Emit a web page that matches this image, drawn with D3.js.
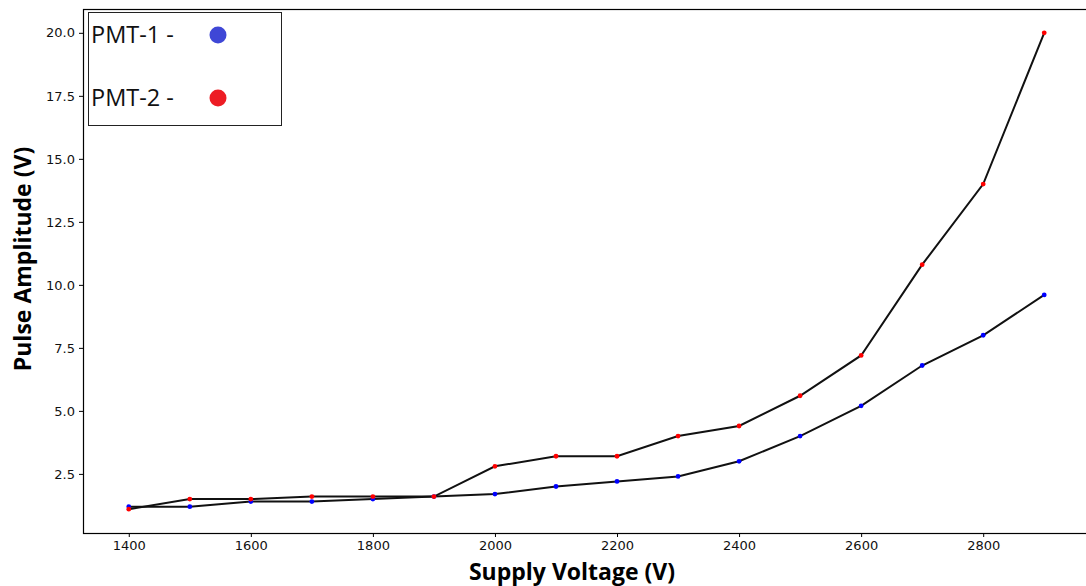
<!DOCTYPE html>
<html>
<head>
<meta charset="utf-8">
<script src="https://cdn.jsdelivr.net/npm/d3@7"></script>
<style>
  body { margin: 0; background: #fff; }
  .tick text { font-family: "DejaVu Sans", sans-serif; font-size: 13px; fill: #111; }
  .axis-title { font-family: "Open Sans", sans-serif; font-weight: bold; font-size: 23px; fill: #000; }
  .legend-text { font-family: "Open Sans", sans-serif; font-size: 23.5px; fill: #111; }
</style>
</head>
<body>
<div id="chart"></div>
<script>
// supply voltage steps (V)
var voltages = [1400, 1500, 1600, 1700, 1800, 1900, 2000, 2100, 2200, 2300, 2400, 2500, 2600, 2700, 2800, 2900];
// pulse amplitude (V)
var pmt1 = [1.2, 1.2, 1.4, 1.4, 1.5, 1.6, 1.7, 2.0, 2.2, 2.4, 3.0, 4.0, 5.2, 6.8, 8.0, 9.6];
var pmt2 = [1.1, 1.5, 1.5, 1.6, 1.6, 1.6, 2.8, 3.2, 3.2, 4.0, 4.4, 5.6, 7.2, 10.8, 14.0, 20.0];
var xTicks = [1400, 1600, 1800, 2000, 2200, 2400, 2600, 2800];
var yTicks = [2.5, 5.0, 7.5, 10.0, 12.5, 15.0, 17.5, 20.0];
var seriesNames = ["PMT-1 -", "PMT-2 -"];

var W = 1086, H = 586;
var margin = {top: 9, left: 83, bottom: 53, right: -4};
var x = d3.scaleLinear().domain([1325, 2975]).range([margin.left, W - margin.right]);
var y = d3.scaleLinear().domain([0.155, 20.945]).range([H - margin.bottom, margin.top]);

var svg = d3.select("#chart").append("svg")
  .attr("width", W)
  .attr("height", H);

var xAxis = d3.axisBottom(x).tickValues(xTicks).tickFormat(d3.format("d")).tickSizeOuter(0).tickSize(4).tickPadding(4);
var yAxis = d3.axisLeft(y).tickValues(yTicks).tickFormat(d3.format(".1f")).tickSizeOuter(0).tickSize(4).tickPadding(4);

var gx = svg.append("g").attr("transform", "translate(0," + (H - margin.bottom) + ")").call(xAxis);
var gy = svg.append("g").attr("transform", "translate(" + margin.left + ",0)").call(yAxis);
gx.select(".domain").remove();
gy.select(".domain").remove();
svg.selectAll(".tick line").attr("stroke", "#000").attr("stroke-width", 1);

// frame
svg.append("rect")
  .attr("x", margin.left + 0.5)
  .attr("y", margin.top + 0.5)
  .attr("width", W - margin.right - margin.left)
  .attr("height", H - margin.bottom - margin.top)
  .attr("fill", "none")
  .attr("stroke", "#000")
  .attr("stroke-width", 1.2);

var line = d3.line()
  .x(function(d, i) { return x(voltages[i]); })
  .y(function(d) { return y(d); });

[pmt1, pmt2].forEach(function(s){
  svg.append("path")
    .datum(s)
    .attr("d", line)
    .attr("fill", "none")
    .attr("stroke", "#111")
    .attr("stroke-width", 2);
});

function dots(s, color){
  svg.append("g").selectAll("circle")
    .data(s)
    .enter().append("circle")
    .attr("cx", function(d, i){ return x(voltages[i]); })
    .attr("cy", function(d){ return y(d); })
    .attr("r", 2.4)
    .attr("fill", color);
}
dots(pmt1, "#0000ff");
dots(pmt2, "#ff0000");

// axis titles
svg.append("text").attr("class", "axis-title")
  .attr("x", 572).attr("y", 580)
  .attr("text-anchor", "middle")
  .text("Supply Voltage (V)");
svg.append("text").attr("class", "axis-title")
  .attr("transform", "translate(31,259) rotate(-90)")
  .attr("text-anchor", "middle")
  .text("Pulse Amplitude (V)");

// legend
var legend = svg.append("g");
legend.append("rect")
  .attr("x", 88.5).attr("y", 12.5)
  .attr("width", 193).attr("height", 113)
  .attr("fill", "#fff")
  .attr("stroke", "#222")
  .attr("stroke-width", 1);
var legendColors = ["#3f47d6", "#ed1c24"];
seriesNames.forEach(function(n, i){
  legend.append("text").attr("class", "legend-text")
    .attr("x", 91).attr("y", 43 + i * 63)
    .text(n);
  legend.append("circle")
    .attr("cx", 218).attr("cy", 35 + i * 63)
    .attr("r", 8.5)
    .attr("fill", legendColors[i]);
});
</script>
</body>
</html>
